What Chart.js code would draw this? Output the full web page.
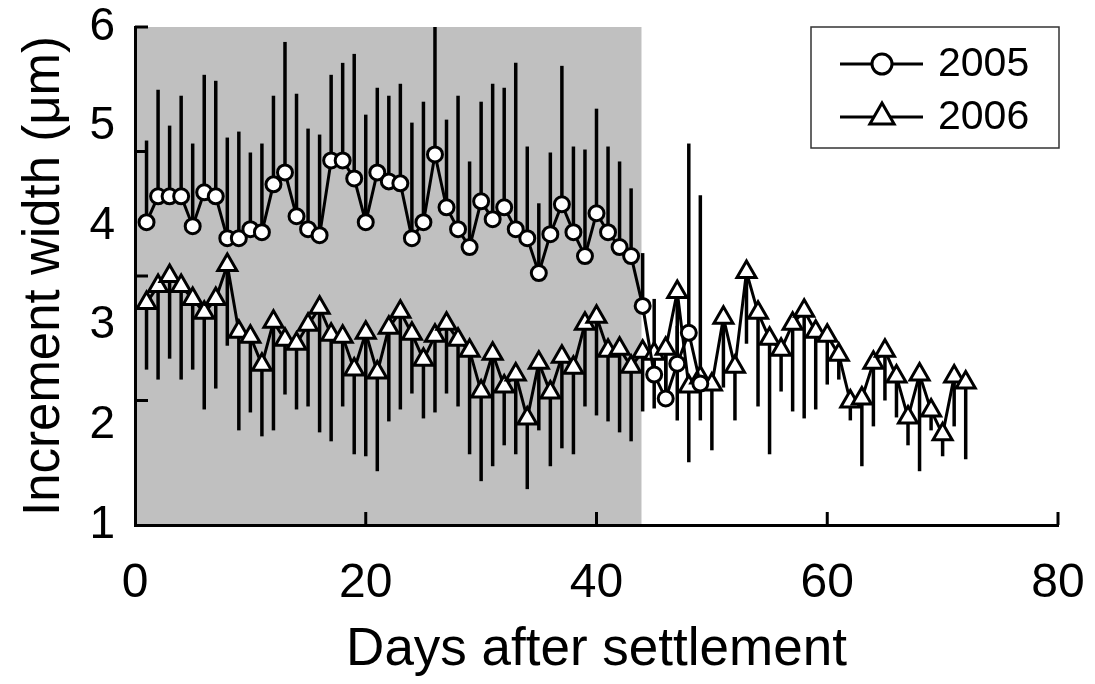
<!DOCTYPE html>
<html>
<head>
  <meta charset="UTF-8">
  <title>Increment width</title>
  <script src="https://cdn.jsdelivr.net/npm/chart.js"></script>
  <style>
    body {
      margin: 0;
      background-color: #fff;
    }
    canvas {
      display: block;
    }
  </style>
</head>
<body>

  <canvas id="incChart" width="1095" height="684"></canvas>

  <script>
    // days after settlement
    const days2005 = [1, 2, 3, 4, 5, 6, 7, 8, 9, 10, 11, 12, 13, 14, 15, 16, 17, 18, 19, 20,
      21, 22, 23, 24, 25, 26, 27, 28, 29, 30, 31, 32, 33, 34, 35, 36, 37, 38, 39, 40,
      41, 42, 43, 44, 45, 46, 47, 48, 49];
    const days2006 = [1, 2, 3, 4, 5, 6, 7, 8, 9, 10, 11, 12, 13, 14, 15, 16, 17, 18, 19, 20,
      21, 22, 23, 24, 25, 26, 27, 28, 29, 30, 31, 32, 33, 34, 35, 36, 37, 38, 39, 40,
      41, 42, 43, 44, 45, 46, 47, 48, 49, 50, 51, 52, 53, 54, 55, 56, 57, 58, 59, 60,
      61, 62, 63, 64, 65, 66, 67, 68, 69, 70, 71, 72];

    // mean increment width (um)
    const mean2005 = [4.04, 4.30, 4.30, 4.30, 4.00, 4.34, 4.30, 3.88, 3.88, 3.97,
      3.94, 4.42, 4.54, 4.10, 3.97, 3.91, 4.66, 4.66, 4.48, 4.04,
      4.54, 4.45, 4.43, 3.88, 4.04, 4.72, 4.19, 3.97, 3.79, 4.25,
      4.07, 4.19, 3.97, 3.88, 3.53, 3.92, 4.22, 3.94, 3.70, 4.13,
      3.94, 3.79, 3.70, 3.20, 2.51, 2.27, 2.62, 2.93, 2.42];
    // top of the error bar (2005 bars point up)
    const upper2005 = [4.86, 5.37, 5.01, 5.31, 4.83, 5.52, 5.46, 4.89, 4.95, 4.74,
      4.83, 5.31, 5.85, 5.33, 4.98, 4.92, 5.52, 5.64, 5.73, 5.12,
      5.39, 5.31, 5.43, 5.04, 5.25, 6.00, 5.07, 5.31, 4.65, 5.25,
      5.43, 5.39, 5.64, 4.80, 4.23, 4.74, 5.61, 4.80, 4.77, 5.18,
      4.80, 4.65, 4.38, 3.73, 3.27, 2.75, 3.00, 4.83, 4.31];

    const mean2006 = [3.23, 3.40, 3.50, 3.40, 3.27, 3.13, 3.27, 3.61, 2.94, 2.89,
      2.61, 3.04, 2.86, 2.82, 3.01, 3.18, 2.91, 2.89, 2.56, 2.93,
      2.53, 2.98, 3.14, 2.92, 2.66, 2.90, 3.02, 2.86, 2.75, 2.34,
      2.72, 2.39, 2.51, 2.07, 2.63, 2.33, 2.69, 2.58, 3.02, 3.09,
      2.75, 2.77, 2.59, 2.74, 2.72, 2.77, 3.34, 2.39, 2.48, 2.41,
      3.08, 2.59, 3.54, 3.13, 2.87, 2.76, 3.02, 3.15, 2.94, 2.90,
      2.71, 2.24, 2.27, 2.63, 2.75, 2.49, 2.08, 2.51, 2.15, 1.91,
      2.49, 2.43];
    // bottom of the error bar (2006 bars point down)
    const lower2006 = [2.56, 2.46, 2.67, 2.46, 2.56, 2.16, 2.37, 2.80, 1.95, 2.13,
      1.89, 1.95, 2.31, 2.16, 2.19, 1.93, 1.84, 2.19, 1.71, 1.69,
      1.54, 2.04, 2.16, 2.32, 2.07, 2.13, 2.32, 2.19, 1.71, 1.44,
      1.59, 1.80, 1.71, 1.36, 1.95, 1.59, 1.77, 1.71, 2.19, 2.10,
      2.04, 1.93, 1.84, 2.14, 2.17, 2.25, 2.05, 1.63, 2.05, 1.75,
      2.38, 2.05, 2.82, 2.19, 1.71, 2.34, 2.14, 2.07, 2.16, 2.41,
      2.46, 2.05, 1.59, 1.99, 2.25, 2.08, 1.80, 1.54, 1.95, 1.69,
      1.99, 1.66];

    const shadeRange = [0, 43.9];
    const xTickMarks = [20, 40, 60, 80];
    const yTickMarks = [2.25, 3.5, 4.75, 6];

    const FONT = 'Liberation Sans, Arial, Helvetica, sans-serif';
    Chart.defaults.font.family = FONT;
    Chart.defaults.color = '#000';

    function pts(xs, ys) {
      return xs.map((d, i) => ({ x: d, y: ys[i] }));
    }

    // grey band for the first period
    const shadePlugin = {
      id: 'shade',
      beforeDraw(chart) {
        const { ctx, chartArea, scales: { x } } = chart;
        const x0 = x.getPixelForValue(shadeRange[0]);
        const x1 = x.getPixelForValue(shadeRange[1]);
        ctx.save();
        ctx.fillStyle = '#c0c0c0';
        ctx.fillRect(x0, chartArea.top, x1 - x0, chartArea.bottom - chartArea.top);
        ctx.restore();
      }
    };

    // one-sided error bars
    const errorBarPlugin = {
      id: 'errorBars',
      beforeDatasetsDraw(chart) {
        const { ctx, scales: { x, y } } = chart;
        ctx.save();
        ctx.strokeStyle = '#000';
        ctx.lineWidth = 3.5;
        chart.data.datasets.forEach(ds => {
          ds.data.forEach((p, i) => {
            const px = x.getPixelForValue(p.x);
            ctx.beginPath();
            ctx.moveTo(px, y.getPixelForValue(p.y));
            ctx.lineTo(px, y.getPixelForValue(ds.errEnd[i]));
            ctx.stroke();
          });
        });
        ctx.restore();
      }
    };

    // inward tick marks
    const tickPlugin = {
      id: 'inTicks',
      afterDatasetsDraw(chart) {
        const { ctx, chartArea, scales: { x, y } } = chart;
        ctx.save();
        ctx.strokeStyle = '#000';
        ctx.lineWidth = 3;
        xTickMarks.forEach(v => {
          const px = x.getPixelForValue(v);
          ctx.beginPath();
          ctx.moveTo(px, chartArea.bottom);
          ctx.lineTo(px, chartArea.bottom - 13);
          ctx.stroke();
        });
        yTickMarks.forEach(v => {
          const py = y.getPixelForValue(v);
          ctx.beginPath();
          ctx.moveTo(chartArea.left, py);
          ctx.lineTo(chartArea.left + 13, py);
          ctx.stroke();
        });
        ctx.restore();
      }
    };

    // boxed legend, line + marker like the original
    const legendPlugin = {
      id: 'boxLegend',
      afterDraw(chart) {
        const { ctx, chartArea } = chart;
        const w = 248, h = 121;
        const left = chartArea.right + 1 - w;
        const top = chartArea.top;
        ctx.save();
        ctx.fillStyle = '#fff';
        ctx.fillRect(left, top, w, h);
        ctx.strokeStyle = '#333';
        ctx.lineWidth = 1.5;
        ctx.strokeRect(left, top, w, h);
        chart.data.datasets.forEach((ds, i) => {
          const cy = top + 37 + i * 53;
          const cx = left + 71;
          ctx.strokeStyle = '#000';
          ctx.lineWidth = 3;
          ctx.beginPath();
          ctx.moveTo(left + 29, cy);
          ctx.lineTo(left + 112, cy);
          ctx.stroke();
          ctx.fillStyle = '#fff';
          ctx.beginPath();
          if (ds.pointStyle === 'circle') {
            ctx.arc(cx, cy, 10, 0, Math.PI * 2);
          } else {
            const r = 14;
            ctx.moveTo(cx, cy - r);
            ctx.lineTo(cx + r * 0.866, cy + r / 2);
            ctx.lineTo(cx - r * 0.866, cy + r / 2);
            ctx.closePath();
          }
          ctx.fill();
          ctx.stroke();
          ctx.fillStyle = '#000';
          ctx.font = '41px ' + FONT;
          ctx.textBaseline = 'middle';
          ctx.textAlign = 'left';
          ctx.fillText(ds.label, left + 127, cy + 1);
        });
        ctx.restore();
      }
    };

    const ctx = document.getElementById('incChart').getContext('2d');

    const chart = new Chart(ctx, {
      type: 'line',
      data: {
        datasets: [{
          label: '2005',
          data: pts(days2005, mean2005),
          errEnd: upper2005,
          borderColor: '#000',
          borderWidth: 3,
          pointStyle: 'circle',
          pointRadius: 7.5,
          pointBackgroundColor: '#fff',
          pointBorderColor: '#000',
          pointBorderWidth: 3,
          tension: 0
        }, {
          label: '2006',
          data: pts(days2006, mean2006),
          errEnd: lower2006,
          borderColor: '#000',
          borderWidth: 3,
          pointStyle: 'triangle',
          pointRadius: 11,
          pointBackgroundColor: '#fff',
          pointBorderColor: '#000',
          pointBorderWidth: 3,
          tension: 0
        }]
      },
      options: {
        responsive: false,
        animation: false,
        layout: {
          padding: { top: 27, right: 37, left: 0, bottom: 0 }
        },
        plugins: {
          legend: { display: false },
          tooltip: { enabled: false }
        },
        scales: {
          x: {
            type: 'linear',
            min: 0,
            max: 80,
            grid: { display: false },
            border: { display: true, color: '#000', width: 3 },
            ticks: {
              stepSize: 20,
              maxRotation: 0,
              padding: 22,
              color: '#000',
              font: { size: 48 }
            },
            title: {
              display: true,
              text: 'Days after settlement',
              color: '#000',
              font: { size: 53 },
              padding: { top: 0, bottom: 2 }
            },
            afterFit(scale) {
              scale.height = 159;
              scale.paddingLeft = 0;
              scale.paddingRight = 0;
            }
          },
          y: {
            min: 1,
            max: 6,
            grid: { display: false },
            border: { display: true, color: '#000', width: 3 },
            ticks: {
              stepSize: 1,
              padding: 12,
              color: '#000',
              font: { size: 46, lineHeight: 1 }
            },
            title: {
              display: true,
              text: 'Increment width (μm)',
              color: '#000',
              font: { size: 51 },
              padding: { top: 14, bottom: 0 }
            },
            afterFit(scale) {
              scale.width = 135;
              scale.paddingTop = 0;
              scale.paddingBottom = 0;
            }
          }
        }
      },
      plugins: [shadePlugin, errorBarPlugin, tickPlugin, legendPlugin]
    });
  </script>

</body>
</html>
